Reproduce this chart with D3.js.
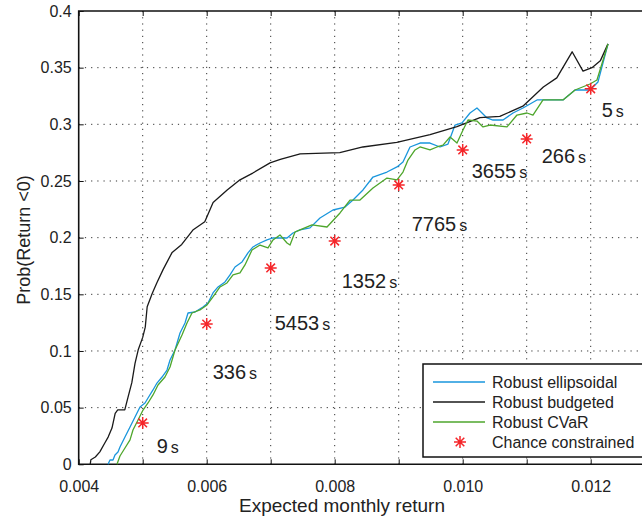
<!DOCTYPE html>
<html>
<head>
<meta charset="utf-8">
<title>Prob(Return &lt; 0) vs expected monthly return</title>
<script src="https://cdn.jsdelivr.net/npm/d3@7"></script>
<style>
    body { margin: 0; background: #fff; }
    text { font-family: "Liberation Sans", Arial, sans-serif; fill: #222; }
</style>
</head>
<body>
<script>
    // series: [expected return, prob(return < 0)]
    var ellipsoidal = [
        [0.004458,0],[0.004489,0.0038],[0.004536,0.0038],[0.004567,0.0082],[0.004614,0.0109],
        [0.004645,0.0153],[0.004723,0.0241],[0.004802,0.0329],[0.004880,0.0417],[0.004958,0.0506],
        [0.005036,0.0541],[0.005083,0.0585],[0.005161,0.0656],[0.005223,0.0717],[0.005302,0.0770],
        [0.005380,0.0832],[0.005427,0.0920],[0.005505,0.1009],[0.005583,0.1159],[0.005661,0.1247],
        [0.005708,0.1335],[0.005817,0.1344],[0.005942,0.1388],[0.006020,0.1424],[0.006098,0.1512],
        [0.006177,0.1565],[0.006286,0.1609],[0.006364,0.1671],[0.006442,0.1741],[0.006552,0.1786],
        [0.006645,0.1865],[0.006723,0.1918],[0.006833,0.1953],[0.006942,0.1980],[0.007036,0.1997],
        [0.007255,0.1997],[0.007348,0.2041],[0.007458,0.2068],[0.007614,0.2086],[0.007770,0.2173],
        [0.007973,0.2244],[0.008161,0.2270],[0.008286,0.2332],[0.008442,0.2421],[0.008598,0.2535],
        [0.008817,0.2579],[0.008973,0.2624],[0.009067,0.2668],[0.009177,0.2800],[0.009333,0.2835],
        [0.009489,0.2835],[0.009645,0.2800],[0.009770,0.2826],[0.009880,0.2994],[0.009989,0.3012],
        [0.010114,0.3100],[0.010223,0.3144],[0.010380,0.3056],[0.010473,0.3038],[0.010630,0.3038],
        [0.010786,0.3100],[0.010942,0.3144],[0.011161,0.3215],[0.011567,0.3215],[0.011755,0.3303],
        [0.011989,0.3303],[0.012114,0.3374],[0.012270,0.3709]
    ];
    var budgeted = [
        [0.00418,0],[0.00419,0.004],[0.00426,0.0064],[0.00433,0.011],[0.00441,0.019],[0.00446,0.024],
        [0.00452,0.032],[0.00457,0.045],[0.00461,0.048],[0.00472,0.048],[0.00477,0.059],[0.00483,0.072],
        [0.00488,0.089],[0.00493,0.101],[0.00500,0.112],[0.00504,0.121],[0.00507,0.139],[0.00515,0.151],
        [0.00522,0.160],[0.00532,0.172],[0.00546,0.187],[0.00561,0.194],[0.00579,0.207],[0.00597,0.214],
        [0.00610,0.231],[0.00632,0.242],[0.00652,0.251],[0.00672,0.257],[0.00699,0.266],[0.00715,0.269],
        [0.00746,0.274],[0.00808,0.275],[0.00844,0.280],[0.00897,0.284],[0.00949,0.291],[0.00991,0.298],
        [0.01027,0.306],[0.01058,0.307],[0.01094,0.316],[0.01126,0.333],[0.01147,0.341],[0.01171,0.364],
        [0.01188,0.347],[0.01202,0.350],[0.01215,0.356],[0.01227,0.371]
    ];
    var cvar = [
        [0.004598,0],[0.004645,0.0073],[0.004723,0.0144],[0.004802,0.0215],[0.004848,0.0303],
        [0.004927,0.0391],[0.005005,0.0479],[0.005083,0.0541],[0.005161,0.0612],[0.005239,0.0700],
        [0.005348,0.0770],[0.005427,0.0859],[0.005505,0.1009],[0.005614,0.1141],[0.005692,0.1247],
        [0.005770,0.1335],[0.005895,0.1362],[0.006005,0.1406],[0.006098,0.1477],[0.006208,0.1565],
        [0.006317,0.1600],[0.006411,0.1671],[0.006520,0.1689],[0.006598,0.1759],[0.006708,0.1891],
        [0.006833,0.1935],[0.006958,0.1909],[0.007036,0.1980],[0.007145,0.2024],[0.007255,0.1953],
        [0.007302,0.1935],[0.007380,0.2050],[0.007458,0.2068],[0.007645,0.2112],[0.007880,0.2094],
        [0.008083,0.2218],[0.008239,0.2332],[0.008395,0.2332],[0.008598,0.2438],[0.008817,0.2526],
        [0.008973,0.2509],[0.009067,0.2579],[0.009145,0.2685],[0.009255,0.2774],[0.009333,0.2800],
        [0.009489,0.2774],[0.009598,0.2800],[0.009692,0.2817],[0.009802,0.2888],[0.009911,0.2835],
        [0.010005,0.2950],[0.010083,0.3038],[0.010223,0.3029],[0.010317,0.2977],[0.010427,0.2994],
        [0.010692,0.2977],[0.010848,0.3082],[0.011005,0.3100],[0.011098,0.3082],[0.011255,0.3215],
        [0.011567,0.3215],[0.011755,0.3303],[0.011989,0.3356],[0.012098,0.3391],[0.012270,0.3709]
    ];
    var chanceX = [0.005, 0.006, 0.007, 0.008, 0.009, 0.010, 0.011, 0.012];
    var chanceY = [0.0365, 0.1238, 0.1733, 0.1970, 0.2465, 0.2774, 0.2871, 0.3313];
    var solveTimes = ['9', '336', '5453', '1352', '7765', '3655', '266', '5'];

    var xTicks = [0.004, 0.005, 0.006, 0.007, 0.008, 0.009, 0.010, 0.011, 0.012];
    var yTicks = [0, 0.05, 0.1, 0.15, 0.2, 0.25, 0.3, 0.35, 0.4];
    var yTickLabels = ['0', '0.05', '0.1', '0.15', '0.2', '0.25', '0.3', '0.35', '0.4'];
    var legendNames = ['Robust ellipsoidal', 'Robust budgeted', 'Robust CVaR', 'Chance constrained'];

    // pixel offsets of the time labels from their star
    var labelOffsets = [[14,30],[6,55],[4,62],[7,47],[13,46],[9,28],[15,24],[11,28]];

    var width = 642, height = 521;
    var plotLeft = 78.7, plotTop = 11, plotBottom = 464.3;

    var svg = d3.select('body').append('svg')
        .attr('width', width)
        .attr('height', height);

    var x = d3.scaleLinear().domain([0.004, 0.013]).range([plotLeft, plotLeft + 9 * 64]);
    var y = d3.scaleLinear().domain([0, 0.4]).range([plotBottom, plotTop]);

    // dotted grid
    var grid = svg.append('g');
    grid.selectAll('line.vx')
        .data(xTicks.slice(1)).enter()
        .append('line')
        .attr('x1', x).attr('x2', x)
        .attr('y1', plotTop).attr('y2', plotBottom)
        .style('stroke', '#333').style('stroke-width', 1)
        .style('stroke-dasharray', '1.2,5');
    grid.selectAll('line.hy')
        .data(yTicks.slice(1, -1)).enter()
        .append('line')
        .attr('y1', y).attr('y2', y)
        .attr('x1', plotLeft).attr('x2', width)
        .style('stroke', '#333').style('stroke-width', 1)
        .style('stroke-dasharray', '1.2,5');

    // axes
    var xax = d3.axisBottom(x)
        .tickValues(xTicks)
        .tickSize(-5)
        .tickPadding(16)
        .tickFormat(function(d, i) { return i % 2 === 0 ? d3.format('.3f')(d) : ''; });
    svg.append('g')
        .attr('transform', 'translate(0,' + plotBottom + ')')
        .call(xax)
        .call(function(g) {
            g.select('.domain').remove();
            g.selectAll('text').style('font-size', '16px').attr('fill', '#222')
                .style('font-family', '"Liberation Sans", Arial, sans-serif');
            g.selectAll('line').style('stroke', '#111');
        });

    svg.append('g')
        .attr('transform', 'translate(0,' + plotTop + ')')
        .call(d3.axisTop(x).tickValues(xTicks).tickSize(-5).tickFormat(''))
        .call(function(g) {
            g.select('.domain').remove();
            g.selectAll('line').style('stroke', '#111');
        });

    var yax = d3.axisLeft(y)
        .tickValues(yTicks)
        .tickSize(-5)
        .tickPadding(7)
        .tickFormat(function(d, i) { return yTickLabels[i]; });
    svg.append('g')
        .attr('transform', 'translate(' + plotLeft + ',0)')
        .call(yax)
        .call(function(g) {
            g.select('.domain').remove();
            g.selectAll('text').style('font-size', '16px').attr('fill', '#222')
                .style('font-family', '"Liberation Sans", Arial, sans-serif');
            g.selectAll('line').style('stroke', '#111');
        });

    // box
    svg.append('path')
        .attr('d', 'M' + (width + 2) + ',' + plotTop + 'H' + plotLeft + 'V' + plotBottom + 'H' + (width + 2))
        .style('fill', 'none').style('stroke', '#111').style('stroke-width', 1.6);

    svg.append('text')
        .attr('x', 342).attr('y', 512)
        .style('text-anchor', 'middle').style('font-size', '19px')
        .text('Expected monthly return');

    svg.append('text')
        .attr('transform', 'translate(30,240) rotate(-90)')
        .style('text-anchor', 'middle').style('font-size', '18px')
        .text('Prob(Return <0)');

    // curves
    var line = d3.line()
        .x(function(d) { return x(d[0]); })
        .y(function(d) { return y(d[1]); });

    var series = [
        { data: ellipsoidal, color: '#1996dc' },
        { data: budgeted, color: '#1a1a1a' },
        { data: cvar, color: '#4ea62c' }
    ];

    svg.append('g').selectAll('path')
        .data(series).enter()
        .append('path')
        .attr('d', function(d) { return line(d.data); })
        .style('fill', 'none')
        .style('stroke', function(d) { return d.color; })
        .style('stroke-width', 1.3)
        .style('stroke-linejoin', 'round');

    // chance constrained stars
    var star = 'M-6,0H6M0,-6V6M-4.3,-4.3L4.3,4.3M-4.3,4.3L4.3,-4.3';
    svg.append('g').selectAll('path')
        .data(chanceX).enter()
        .append('path')
        .attr('transform', function(d, i) { return 'translate(' + x(d) + ',' + y(chanceY[i]) + ')'; })
        .attr('d', star)
        .style('stroke', '#f5262a').style('stroke-width', 1.5).style('fill', 'none');

    var labels = svg.append('g').selectAll('text')
        .data(solveTimes).enter()
        .append('text')
        .attr('x', function(d, i) { return x(chanceX[i]) + labelOffsets[i][0]; })
        .attr('y', function(d, i) { return y(chanceY[i]) + labelOffsets[i][1]; })
        .style('font-size', '20px');
    labels.append('tspan').text(function(d) { return d; });
    labels.append('tspan').attr('dx', 3).style('font-size', '16px').text('s');

    // legend
    var legend = svg.append('g').attr('transform', 'translate(423,364)');
    legend.append('rect')
        .attr('width', 240).attr('height', 93)
        .style('fill', '#fff').style('stroke', '#111').style('stroke-width', 1.5);

    var rows = legend.selectAll('g.row')
        .data(legendNames).enter()
        .append('g')
        .attr('transform', function(d, i) { return 'translate(0,' + (18 + i * 20) + ')'; });

    rows.filter(function(d, i) { return i < 3; })
        .append('line')
        .attr('x1', 10).attr('x2', 62)
        .style('stroke', function(d, i) { return series[i].color; })
        .style('stroke-width', 1.3);
    rows.filter(function(d, i) { return i === 3; })
        .append('path')
        .attr('transform', 'translate(37,0)')
        .attr('d', star)
        .style('stroke', '#f5262a').style('stroke-width', 1.5);

    rows.append('text')
        .attr('x', 69).attr('dy', '0.35em')
        .style('font-size', '16px')
        .text(function(d) { return d; });
</script>
</body>
</html>
